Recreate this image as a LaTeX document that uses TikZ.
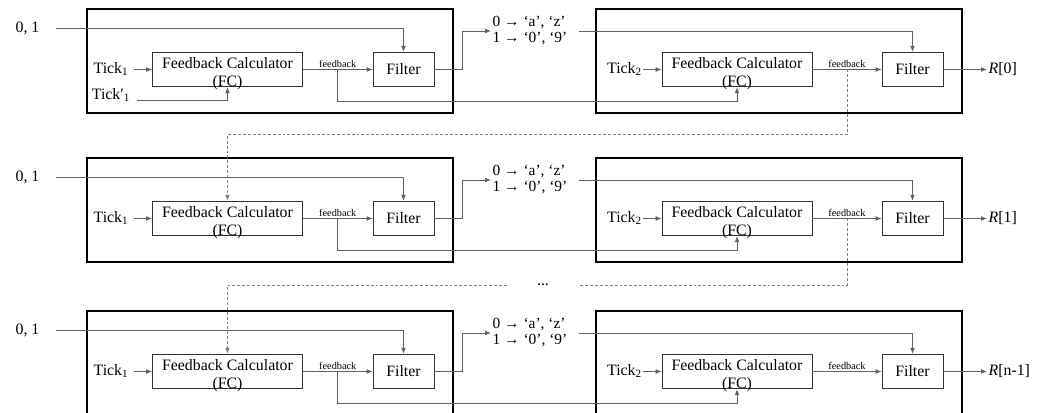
\documentclass[tikz,border=0pt]{standalone}
\usepackage{fontspec}
\setmainfont{Liberation Serif}
\usetikzlibrary{arrows.meta,calc}
\newcommand\mfs{\fontsize{11.9}{13.2}\selectfont}
\begin{document}
\begin{tikzpicture}[x=0.75pt,y=-0.75pt,
  conn/.style={draw=black!62, line width=0.6pt, -{Latex[length=4.5pt,width=3.6pt]}},
  dconn/.style={conn, draw=black!50, dash pattern=on 2.2pt off 1.5pt},
  outerbox/.style={draw=black, line width=1.5pt},
  fcbox/.style={draw=black!80, line width=0.6pt, minimum width=112.5pt, minimum height=26pt, inner sep=0pt},
  filterbox/.style={draw=black!80, line width=0.6pt, minimum width=45.75pt, minimum height=26pt, inner sep=0pt, font=\mfs},
  txt/.style={inner sep=1pt, font=\mfs},
  fbl/.style={font=\fontsize{7.7}{9}\selectfont, inner sep=1.5pt},
]
\useasboundingbox (0,0) rectangle (1046,412);
\clip (0,0) rectangle (1046,412);
\foreach \r/\dy/\lab in {1/0/0, 2/149/1, 3/302/n-1}{
  % outer boxes
  \draw[outerbox] (87,9+\dy) rectangle (453,113+\dy);
  \draw[outerbox] (596,9+\dy) rectangle (962,113+\dy);
  % left half
  \node[txt] (in\r) at (27.5,28+\dy) {0, 1};
  \node[txt] (tkA\r) at (111,69+\dy) {Tick\textsubscript{1}};
  \node[fcbox] (fcA\r) at (227.5,69.5+\dy) {};
  \node[txt, align=center] (fcAt\r) at (227.5,73.5+\dy) {Feedback Calculator\\(FC)};
  \node[filterbox] (flA\r) at (403.5,69.5+\dy) {Filter};
  \node[txt, align=left, font=\fontsize{11.6}{12}\selectfont] (map\r) at (530,31+\dy) {0 → ‘a’, ‘z’\\1 → ‘0’, ‘9’};
  % right half
  \node[txt] (tkB\r) at (624.5,69+\dy) {Tick\textsubscript{2}};
  \node[fcbox] (fcB\r) at (737,69.5+\dy) {};
  \node[txt, align=center] (fcBt\r) at (737,73.5+\dy) {Feedback Calculator\\(FC)};
  \node[filterbox] (flB\r) at (912.5,69.5+\dy) {Filter};
  \node[txt, anchor=west] (out\r) at (987,69.5+\dy) {\textit{R}[\lab]};
  % connectors
  \draw[conn, shorten <=11pt] (in\r.east) -| (flA\r.north);
  \draw[conn, shorten <=3pt] (tkA\r.east |- fcA\r.west) -- (fcA\r.west);
  \draw[conn] (fcA\r.east) -- node[fbl, above] (fbA\r) {feedback} (flA\r.west);
  \coordinate (brA\r) at ($(fcA\r.east)!0.5!(flA\r.west)$);
  \draw[conn] (brA\r) -- ++(0,31.5) -| (fcB\r.south);
  \draw[conn] (flA\r.east) -- ++(28,0) |- (map\r.west);
  \draw[conn, shorten <=7.5pt] (map\r.east) -| (flB\r.north);
  \draw[conn] (tkB\r.east |- fcB\r.west) -- (fcB\r.west);
  \draw[conn] (fcB\r.east) -- node[fbl, above] (fbB\r) {feedback} (flB\r.west);
  \coordinate (brB\r) at ($(fcB\r.east)!0.5!(flB\r.west)$);
  \draw[conn] (flB\r.east) -- (out\r.west);
}
% extra input of the first row
\node[txt] (tkP) at (111,95) {Tick′\textsubscript{1}};
\draw[conn] ([xshift=4pt,yshift=-3.75pt]tkP.east) -| (fcA1.south);
% dashed feedback links between rows
\draw[dconn] (brB1) -- ++(0,65) -| (fcA2.north);
\node[txt, minimum width=54pt, inner sep=0pt] (dots) at (543,285) {...};
\draw[draw=black!50, dash pattern=on 2.2pt off 1.5pt, line width=0.6pt] (brB2) |- (dots.east);
\draw[dconn] (dots.west) -| (fcA3.north);
\end{tikzpicture}
\end{document}
